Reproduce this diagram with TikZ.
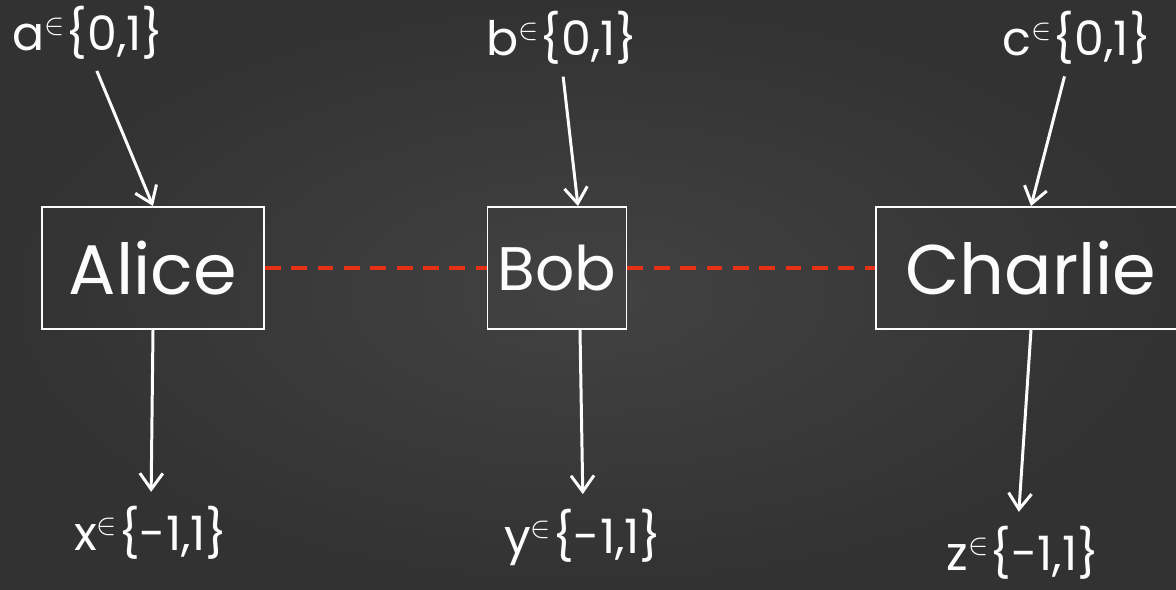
\documentclass[tikz,border=0pt]{standalone}
\usepackage{fontspec}
\setmainfont{Poppins}
\usetikzlibrary{arrows.meta,positioning}
\definecolor{board}{RGB}{66,66,66}
\definecolor{boardrim}{RGB}{50,50,50}
\definecolor{chalk}{RGB}{252,252,252}
\definecolor{brick}{RGB}{232,48,22}
\tikzset{
  >={Straight Barb[length=3.2mm,width=4.6mm]},
  party/.style={draw=chalk,line width=1.1pt,text=chalk,font=\fontsize{40}{48}\selectfont,
    minimum height=24.4mm,inner sep=0pt},
  value/.style={text=chalk,font=\fontsize{27}{32}\selectfont,inner sep=1pt},
  feed/.style={->,draw=chalk,line width=1.7pt},
  link/.style={draw=brick,line width=2.3pt,dash pattern=on 9pt off 6pt},
}

\begin{document}
\begin{tikzpicture}[x=0.02cm,y=-0.02cm]
  \useasboundingbox (0,0) rectangle (1176,589);
  \clip (0,0) rectangle (1176,589);
  \shade[inner color=board,outer color=boardrim] (0,0) rectangle (1176,589);
  % the three parties
  \node[party,minimum width=4.44cm] (alice) at (153,268) {Alice};
  \node[party,minimum width=2.78cm,font=\fontsize{35}{42}\selectfont] (bob) at (557,268) {Bob};
  \node[party,minimum width=6.2cm] (charlie) at (1031,268) {Charlie};
  % inputs and outputs
  \node[value] (a) at (88,33) {a$^{\in}$\{0,1\}};
  \node[value] (b) at (562,38) {b$^{\in}$\{0,1\}};
  \node[value] (c) at (1077,38) {c$^{\in}$\{0,1\}};
  \node[value] (x) at (151,533) {x$^{\in}$\{-1,1\}};
  \node[value] (y) at (583,537) {y$^{\in}$\{-1,1\}};
  \node[value] (z) at (1023,553) {z$^{\in}$\{-1,1\}};
  \draw[feed,shorten <=2mm] ([xshift=1mm]a.south) -- (alice.north);
  \draw[feed,shorten <=2mm] (b.south) -- ([xshift=4.2mm]bob.north);
  \draw[feed,shorten <=2mm] ([xshift=-2mm]c.south) -- (charlie.north);
  \draw[feed,shorten >=2.5mm] (alice.south) -- (x.north);
  \draw[feed,shorten >=2.5mm] ([xshift=4.6mm]bob.south) -- (y.north);
  \draw[feed,shorten >=2.5mm] (charlie.south) -- ([xshift=-1mm]z.north);
  % correlations
  \draw[link] (alice) -- (bob);
  \draw[link] (bob) -- (charlie);
\end{tikzpicture}
\end{document}
